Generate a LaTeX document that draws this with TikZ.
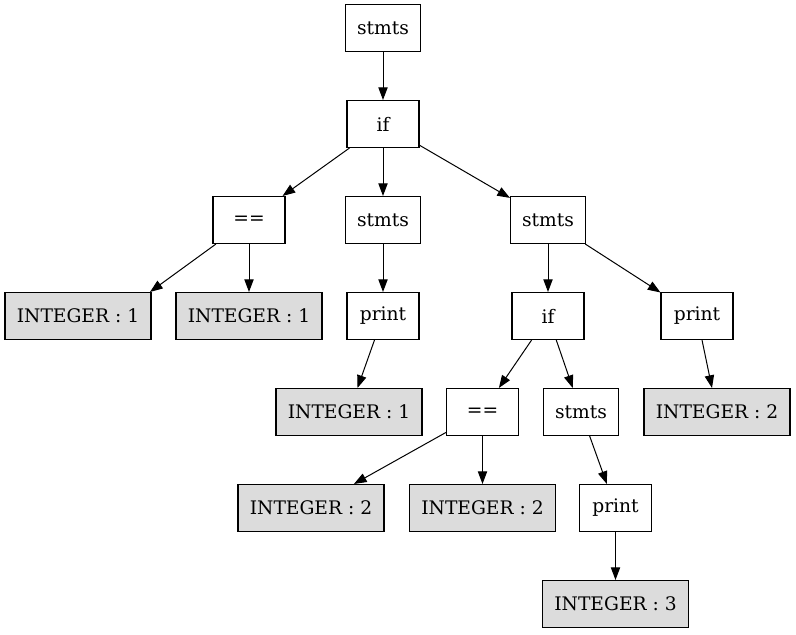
\documentclass[tikz,border=0pt]{standalone}
\usepackage{fontspec}
\setmainfont{DejaVu Serif}
\usetikzlibrary{arrows.meta}
\definecolor{leafgray}{RGB}{220,220,220}
\begin{document}
\begin{tikzpicture}[x=0.75pt,y=-0.75pt,
  every node/.style={draw, line width=0.8pt, inner sep=2pt, minimum height=35.25pt,
    font=\fontsize{14pt}{16pt}\selectfont},
  op/.style={minimum width=54pt},
  blk/.style={minimum width=56.25pt},
  leaf/.style={minimum width=109.5pt, fill=leafgray},
  edge/.style={draw, line width=0.75pt, -{Triangle[length=9.5pt,width=7pt]}}]
\useasboundingbox (0,0) rectangle (796,635);
% statement tree
\node[blk]  (root)   at (383,28)  {stmts};
\node[op]   (if1)    at (383,124) {if};
\node[op]   (eq1)    at (249,220) {==};
\node[blk]  (then1)  at (383,220) {stmts};
\node[blk]  (else1)  at (548,220) {stmts};
\node[leaf] (i1a)    at (78,316)  {INTEGER : 1};
\node[leaf] (i1b)    at (249,316) {INTEGER : 1};
\node[op]   (pr1)    at (383,316) {print};
\node[op]   (if2)    at (548,316) {if};
\node[op]   (pr2)    at (697,316) {print};
\node[leaf] (i1c)    at (349,412) {INTEGER : 1};
\node[op]   (eq2)    at (482.5,412) {==};
\node[blk]  (then2)  at (581,412) {stmts};
\node[leaf] (i2c)    at (717,412) {INTEGER : 2};
\node[leaf] (i2a)    at (311,508) {INTEGER : 2};
\node[leaf] (i2b)    at (482.5,508) {INTEGER : 2};
\node[op]   (pr3)    at (615.5,508) {print};
\node[leaf] (i3)     at (615.5,604) {INTEGER : 3};
% edges
\path[edge] (root) -- (if1);
\path[edge] (if1) -- (eq1);
\path[edge] (if1) -- (then1);
\path[edge] (if1) -- (else1);
\path[edge] (eq1) -- ([xshift=54]i1a.north);
\path[edge] (eq1) -- (i1b);
\path[edge] (then1) -- (pr1);
\path[edge] (pr1) -- (i1c);
\path[edge] (else1) -- (if2);
\path[edge] (else1) -- (pr2);
\path[edge] (pr2) -- (i2c);
\path[edge] (if2) -- (eq2);
\path[edge] (if2) -- (then2);
\path[edge] (eq2) -- (i2a);
\path[edge] (eq2) -- (i2b);
\path[edge] (then2) -- (pr3);
\path[edge] (pr3) -- (i3);
\end{tikzpicture}
\end{document}
